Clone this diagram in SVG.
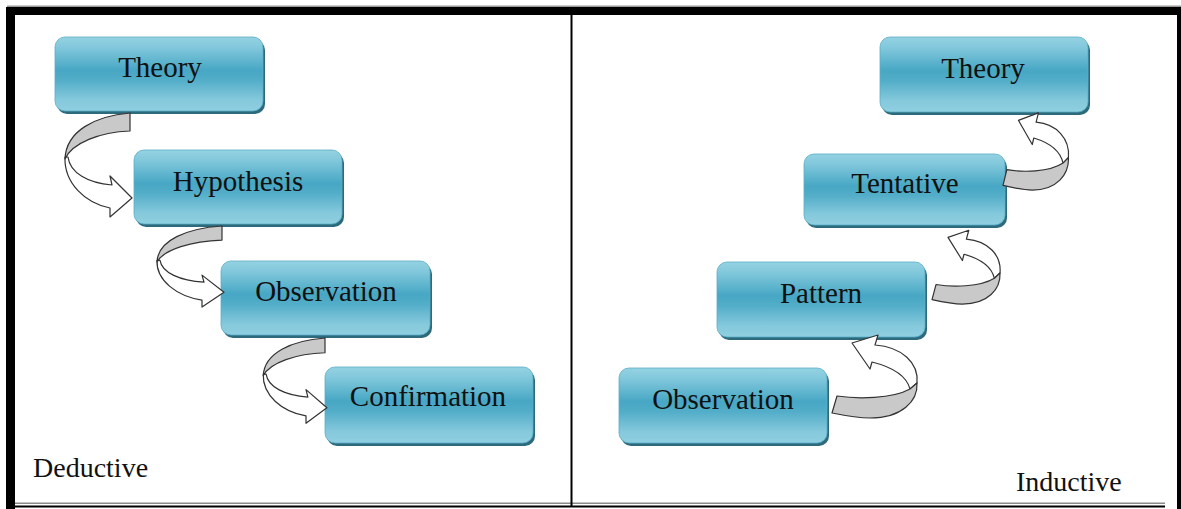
<svg xmlns="http://www.w3.org/2000/svg" width="1181" height="509" viewBox="0 0 1181 509">
  <style>
    .frame { fill: #000; }
    .shadow { fill: #2c6a7c; }
    .box { fill: url(#boxFill); stroke: #5aaec6; stroke-width: 0.8; }
    .label { font-family: "Liberation Serif", "Times New Roman", serif; font-size: 29px; fill: #111; text-anchor: middle; }
    .caption { font-family: "Liberation Serif", "Times New Roman", serif; font-size: 28px; fill: #111; }
    .back { fill: #c9c9c9; stroke: #333; stroke-width: 1.2; vector-effect: non-scaling-stroke; stroke-linejoin: round; }
    .front { fill: #fff; stroke: #333; stroke-width: 1.2; vector-effect: non-scaling-stroke; stroke-linejoin: round; }
  </style>
  <defs>
    <linearGradient id="boxFill" x1="0" y1="0" x2="0" y2="1">
      <stop offset="0" stop-color="#95d2e2"/>
      <stop offset="0.15" stop-color="#80c7db"/>
      <stop offset="0.45" stop-color="#47a7c4"/>
      <stop offset="0.58" stop-color="#52adc8"/>
      <stop offset="0.85" stop-color="#85c9dc"/>
      <stop offset="1" stop-color="#8fcfe0"/>
    </linearGradient>
    <!-- curved connector pieces, drawn at unit size and placed with transforms -->
    <path id="downBack" class="back" d="M0,0 C-35,3 -64,18 -65,46 C-58,30 -30,19 0,18 Z"/>
    <path id="downFront" class="front" d="M-65,44 C-66,70 -45,90 -20,95 L-20,104 L2,85 L-20,63 L-18,72 C-42,70 -60,60 -62,44 Z"/>
    <path id="upBack" class="back" d="M5,-23 C25,-20 60,-20 78,-30 L85,-36 C86,-18 70,-1 38,-1 C25,-1 10,-4 0,-6 Z"/>
    <path id="upFront" class="front" d="M85,-36 C87,-56 70,-72 43,-74 L46,-84 L20,-76 L38,-50 L40,-57 C56,-53 74,-45 78,-30 Z"/>
  </defs>

  <rect width="1181" height="509" fill="#fff"/>

  <!-- outer frame and divider -->
  <g id="frame">
    <rect x="7" y="5.5" width="1174" height="1.5" fill="#9a9a9a"/>
    <rect class="frame" x="7" y="7" width="1174" height="8"/>
    <rect class="frame" x="6" y="7" width="9" height="502"/>
    <rect class="frame" x="1177" y="7" width="4" height="502"/>
    <rect x="15" y="502.5" width="1150" height="1.5" fill="#8a8a8a"/>
    <rect class="frame" x="15" y="505.5" width="1150" height="2"/>
    <rect class="frame" x="570.5" y="15" width="2" height="492"/>
  </g>

  <!-- deductive side -->
  <g id="d-theory">
    <rect class="shadow" x="57" y="40" width="208" height="74" rx="10"/>
    <rect class="box" x="55" y="37" width="208" height="74" rx="10"/>
    <text class="label" x="160" y="77">Theory</text>
  </g>
  <g id="d-hypothesis">
    <rect class="shadow" x="136" y="153" width="208" height="74" rx="10"/>
    <rect class="box" x="134" y="150" width="208" height="74" rx="10"/>
    <text class="label" x="238" y="191">Hypothesis</text>
  </g>
  <g id="d-observation">
    <rect class="shadow" x="223" y="264" width="209" height="74" rx="10"/>
    <rect class="box" x="221" y="261" width="209" height="74" rx="10"/>
    <text class="label" x="326" y="301">Observation</text>
  </g>
  <g id="d-confirmation">
    <rect class="shadow" x="327" y="370" width="208" height="76" rx="10"/>
    <rect class="box" x="325" y="367" width="208" height="76" rx="10"/>
    <text class="label" x="428" y="406">Confirmation</text>
  </g>

  <!-- inductive side -->
  <g id="i-theory">
    <rect class="shadow" x="882" y="40" width="208" height="75" rx="10"/>
    <rect class="box" x="880" y="37" width="208" height="75" rx="10"/>
    <text class="label" x="983" y="78">Theory</text>
  </g>
  <g id="i-tentative">
    <rect class="shadow" x="806" y="157" width="201" height="71" rx="10"/>
    <rect class="box" x="804" y="154" width="201" height="71" rx="10"/>
    <text class="label" x="905" y="193">Tentative</text>
  </g>
  <g id="i-pattern">
    <rect class="shadow" x="719" y="265" width="208" height="75" rx="10"/>
    <rect class="box" x="717" y="262" width="208" height="75" rx="10"/>
    <text class="label" x="821" y="303">Pattern</text>
  </g>
  <g id="i-observation">
    <rect class="shadow" x="621" y="371" width="208" height="75" rx="10"/>
    <rect class="box" x="619" y="368" width="208" height="75" rx="10"/>
    <text class="label" x="723" y="409">Observation</text>
  </g>

  <!-- curved block arrows between steps -->
  <g id="connectors">
    <g transform="translate(130,113)">
      <use href="#downFront"/>
      <use href="#downBack"/>
    </g>
    <g transform="translate(222,226) scale(1,0.78)">
      <use href="#downFront"/>
      <use href="#downBack"/>
    </g>
    <g transform="translate(325,338) scale(0.95,0.82)">
      <use href="#downFront"/>
      <use href="#downBack"/>
    </g>

    <g transform="translate(832,419)">
      <use href="#upFront"/>
      <use href="#upBack"/>
    </g>
    <g transform="translate(932,305) scale(0.8,0.89)">
      <use href="#upFront"/>
      <use href="#upBack"/>
    </g>
    <g transform="translate(1003,191) scale(0.77,0.93)">
      <use href="#upFront"/>
      <use href="#upBack"/>
    </g>
  </g>

  <text class="caption" x="33" y="477">Deductive</text>
  <text class="caption" x="1016" y="491">Inductive</text>
</svg>
